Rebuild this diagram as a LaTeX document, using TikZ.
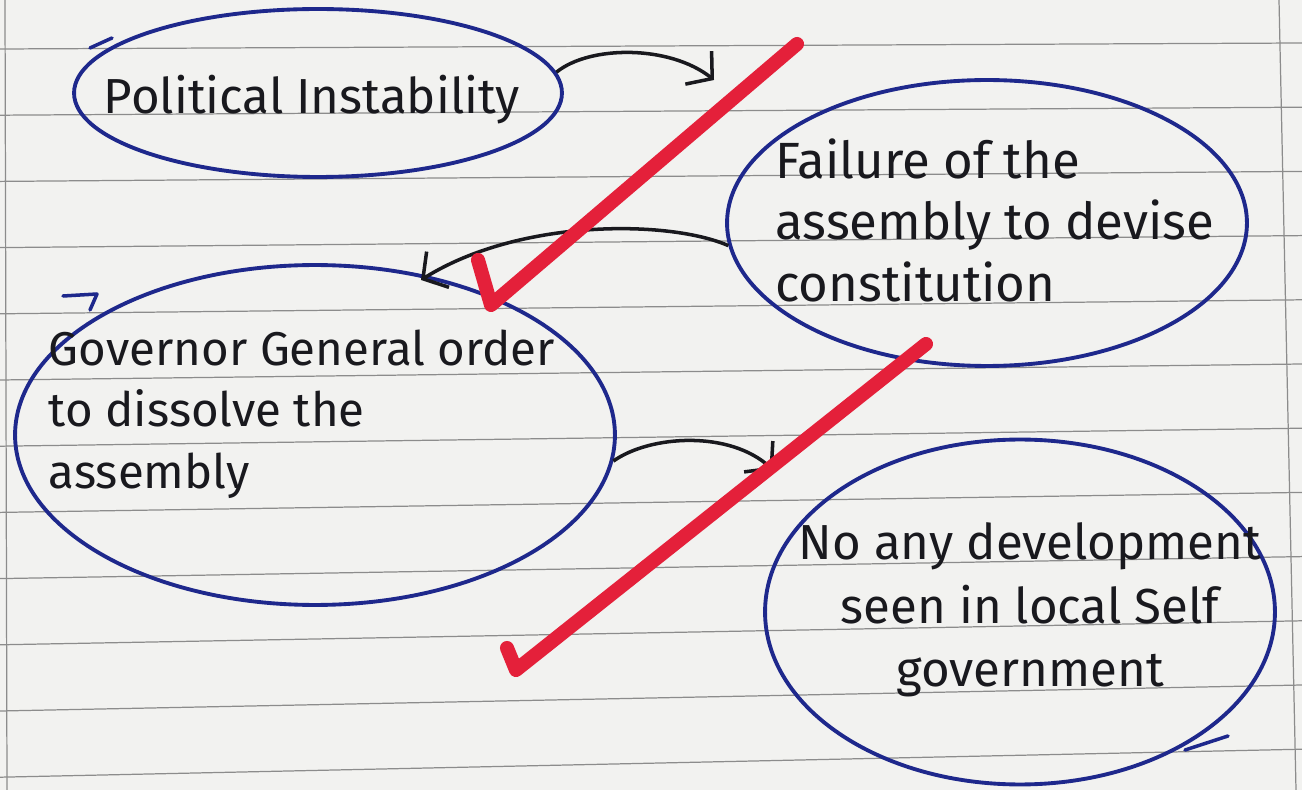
\documentclass[tikz,border=0pt]{standalone}
\usepackage{fontspec}
\setmainfont{Fira Sans}
\usetikzlibrary{shapes.geometric,arrows.meta}
\definecolor{paper}{RGB}{242,242,240}
\definecolor{rulecol}{RGB}{140,140,140}
\definecolor{ink}{RGB}{30,40,140}
\definecolor{pen}{RGB}{25,25,30}
\definecolor{tickred}{RGB}{228,32,58}
\tikzset{
  bubble/.style={ellipse, draw=ink, line width=2.2pt, inner sep=0pt},
  hand/.style={text=pen, inner sep=0pt},
  conn/.style={draw=pen, line width=2pt, -{Straight Barb[length=10pt,width=24pt,line width=2pt]}},
  ruleline/.style={draw=rulecol, line width=0.7pt},
  penstroke/.style={draw=ink, line width=2pt, line cap=round, line join=round},
  checkmark/.style={draw=tickred, line width=8pt, line cap=round, line join=round}
}
\begin{document}
\begin{tikzpicture}[x=0.02cm,y=-0.02cm]
\fill[paper] (0,0) rectangle (1302,790);
\useasboundingbox (0,0) rectangle (1302,790);
% ruled paper
\foreach \i in {0,...,11} {
  \draw[ruleline] (0,{49+66.2*\i}) -- (1302,{43+64.2*\i});
}
\draw[ruleline] (5,0) -- (7,790);
\draw[ruleline] (1279,0) -- (1296,790);
% ellipses
\node[bubble, minimum width=9.76cm, minimum height=3.36cm] (e1) at (318,93) {};
\node[bubble, minimum width=10.4cm, minimum height=5.72cm] (e2) at (987,223) {};
\node[bubble, minimum width=12cm, minimum height=6.8cm] (e3) at (315,435) {};
\node[bubble, minimum width=10.2cm, minimum height=6.9cm] (e4) at (1020,612) {};
% pen start/end strokes
\draw[penstroke] (90,48) -- (112,38);
\draw[penstroke] (63,296) -- (97,294) -- (90,310);
\draw[penstroke] (1185,750) -- (1228,736);
% texts
\node[hand, font=\fontsize{28}{34}\selectfont] (l1) at (312,100) {Political Instability};
\node[hand, align=left, font=\fontsize{29}{35}\selectfont] (l2) at (995,220) {Failure of the\\assembly to devise\\constitution};
\node[hand, align=left, font=\fontsize{27}{35}\selectfont] (l3) at (302,414) {Governor General order\\to dissolve the\\assembly};
\node[hand, align=center, font=\fontsize{28}{36}\selectfont] (l4) at (1030,610) {No any development\\seen in local Self\\government};
% connectors
\coordinate (h1) at (714,80);
\coordinate (h2) at (421,280);
\coordinate (h3) at (773,470);
\draw[conn] (e1.5) .. controls (590,45) and (670,45) .. (h1);
\draw[conn] (e2.185) .. controls (670,220) and (520,218) .. (h2);
\draw[conn] (e3.-5) .. controls (650,435) and (730,430) .. (h3);
% red check marks
\draw[checkmark] (478,260) -- (491,305) -- (797,44);
\draw[checkmark] (507,648) -- (516,670) -- (926,344);
\end{tikzpicture}
\end{document}
